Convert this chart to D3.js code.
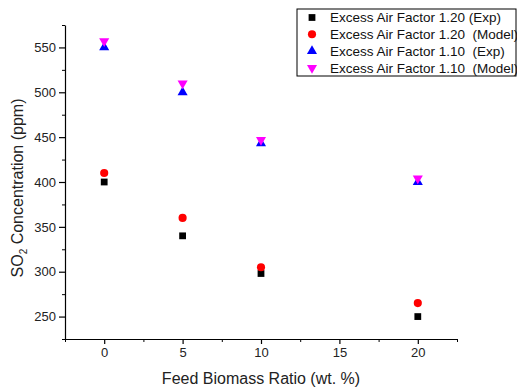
<!DOCTYPE html>
<html>
<head>
<meta charset="utf-8">
<script src="https://cdn.jsdelivr.net/npm/d3@7"></script>
<style>
  body { margin: 0; background: #fff; }
  svg { display: block; font-family: Arial, "Liberation Sans", sans-serif; }
</style>
</head>
<body>
<div id="chart"></div>
<script>
// data
const feedRatio = [0, 5, 10, 20];
const exp120 = [400, 340, 298, 250];
const model120 = [410, 360, 305, 265];
const exp110 = [550, 500, 443, 400];
const model110 = [557, 510, 447, 404];
const xTicks = [0, 5, 10, 15, 20];
const yTicks = [250, 300, 350, 400, 450, 500, 550];

const series = [
    { label: "Excess Air Factor 1.20 (Exp)", values: exp120, color: "#000000", shape: "square" },
    { label: "Excess Air Factor 1.20  (Model)", values: model120, color: "#ff0000", shape: "circle" },
    { label: "Excess Air Factor 1.10  (Exp)", values: exp110, color: "#0000ff", shape: "up" },
    { label: "Excess Air Factor 1.10  (Model)", values: model110, color: "#ff00ff", shape: "down" },
];

const width = 517;
const height = 390;
const margin = { top: 25, right: 60, bottom: 51, left: 65 };
const innerW = width - margin.left - margin.right;
const innerH = height - margin.top - margin.bottom;

const svg = d3.select("#chart").append("svg").attr("width", width).attr("height", height);
const g = svg.append("g").attr("transform", `translate(${margin.left},${margin.top})`);

const x = d3.scaleLinear().domain([-2.5, 22.5]).range([0, innerW]);
const y = d3.scaleLinear().domain([225, 575]).range([innerH, 0]);

// minor ticks first
g.append("g")
    .attr("transform", `translate(0,${innerH})`)
    .call(d3.axisBottom(x).tickValues([-2.5, 2.5, 7.5, 12.5, 17.5, 22.5]).tickSize(3).tickFormat(""))
    .call(a => a.select(".domain").remove());
g.append("g")
    .call(d3.axisLeft(y).tickValues(d3.range(225, 576, 50)).tickSize(3).tickFormat(""))
    .call(a => a.select(".domain").remove());

const xAxis = g.append("g")
    .attr("transform", `translate(0,${innerH})`)
    .call(d3.axisBottom(x).tickValues(xTicks).tickSize(5).tickSizeOuter(0).tickPadding(4));
const yAxis = g.append("g")
    .call(d3.axisLeft(y).tickValues(yTicks).tickSize(6).tickSizeOuter(0).tickPadding(3));

[xAxis, yAxis].forEach(a => {
    a.selectAll("text").style("font-size", "13px").style("fill", "#222");
    a.selectAll("line, path").style("stroke", "#000").style("stroke-width", 1.2);
});

// symbols
function symbolPath(shape) {
    if (shape === "square") return d3.symbol(d3.symbolSquare, 46)();
    if (shape === "circle") return d3.symbol(d3.symbolCircle, 52)();
    return d3.symbol(d3.symbolTriangle, 44)();
}

series.forEach(s => {
    g.selectAll(null)
        .data(feedRatio.map((f, i) => ({ f, v: s.values[i] })))
        .enter()
        .append("path")
        .attr("d", symbolPath(s.shape))
        .attr("transform", d => `translate(${x(d.f)},${y(d.v)})` + (s.shape === "down" ? " rotate(180)" : ""))
        .attr("fill", s.color);
});

// axis titles
svg.append("text")
    .attr("x", margin.left + x(10))
    .attr("y", 384)
    .attr("text-anchor", "middle")
    .style("font-size", "16px")
    .style("fill", "#222")
    .text("Feed Biomass Ratio (wt. %)");

const yt = svg.append("text")
    .attr("transform", `translate(23,${margin.top + innerH / 2 + 6}) rotate(-90)`)
    .attr("text-anchor", "middle")
    .style("font-size", "16px")
    .style("fill", "#222");
yt.append("tspan").text("SO");
yt.append("tspan").attr("dy", 4).style("font-size", "10px").text("2");
yt.append("tspan").attr("dy", -4).text(" Concentration (ppm)");

// legend
const legend = svg.append("g").attr("transform", "translate(297,9)");
legend.append("rect")
    .attr("width", 219)
    .attr("height", 67)
    .attr("fill", "#fff")
    .attr("stroke", "#000")
    .attr("stroke-width", 1);

series.forEach((s, i) => {
    const cy = 8.5 + i * 16.8;
    legend.append("path")
        .attr("d", symbolPath(s.shape))
        .attr("transform", `translate(15,${cy})` + (s.shape === "down" ? " rotate(180)" : ""))
        .attr("fill", s.color);
    legend.append("text")
        .attr("x", 33)
        .attr("y", cy + 4.8)
        .style("font-size", "13.5px")
        .style("white-space", "pre")
        .style("fill", "#111")
        .text(s.label);
});
</script>
</body>
</html>
